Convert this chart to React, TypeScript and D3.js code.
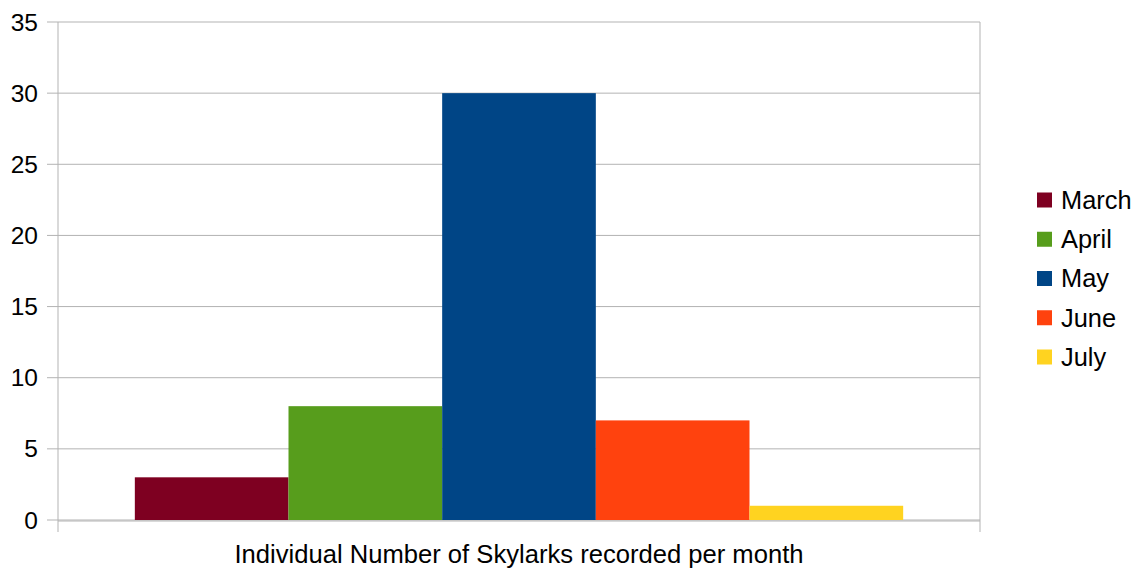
import React from 'react';
import * as d3 from 'd3';

const months = ['March', 'April', 'May', 'June', 'July'];
const counts = [3, 8, 30, 7, 1];
const colors = ['#7e0021', '#579d1c', '#004586', '#ff420e', '#ffd320'];
const category = 'Individual Number of Skylarks recorded per month';

const W = 1138;
const H = 569;
const plot = { left: 58, right: 980, top: 22, bottom: 520 };
const font = '"Liberation Sans", Arial, sans-serif';

const App = () => {
  // scales
  const x0 = d3.scaleBand().domain([category]).range([plot.left, plot.right]);
  const x1 = d3.scaleBand()
    .domain(months)
    .range([0, x0.bandwidth()])
    .paddingInner(0)
    .paddingOuter(0.5);
  const y = d3.scaleLinear().domain([0, 35]).range([plot.bottom, plot.top]);
  const color = d3.scaleOrdinal<string, string>().domain(months).range(colors);
  const ticks = y.ticks(7);

  const legendY = d3.scalePoint().domain(months).range([200, 357]);

  return (
    <svg width={W} height={H} style={{ position: 'absolute', left: 0, top: 0, background: '#fff' }}>
      {/* grid + y ticks */}
      {ticks.map(t => (
        <g key={t}>
          <line x1={plot.left - 11} x2={plot.right} y1={y(t)} y2={y(t)} stroke="#b3b3b3" strokeWidth={1} />
          <text x={38} y={y(t)} dy="0.35em" textAnchor="end" fontFamily={font} fontSize={24.5} fill="#000">
            {t}
          </text>
        </g>
      ))}
      {/* axis lines */}
      <line x1={plot.left} x2={plot.left} y1={plot.top} y2={plot.bottom + 12} stroke="#b3b3b3" />
      <line x1={plot.right} x2={plot.right} y1={plot.top} y2={plot.bottom + 12} stroke="#b3b3b3" />
      <line x1={plot.left} x2={plot.right} y1={plot.bottom + 1} y2={plot.bottom + 1} stroke="#b3b3b3" />

      {/* bars */}
      {months.map((m, i) => (
        <rect
          key={m}
          x={(x0(category) ?? 0) + (x1(m) ?? 0)}
          y={y(counts[i])}
          width={x1.bandwidth()}
          height={plot.bottom - y(counts[i])}
          fill={color(m)}
        />
      ))}

      {/* x label */}
      <text
        x={(x0(category) ?? 0) + x0.bandwidth() / 2}
        y={563}
        textAnchor="middle"
        fontFamily={font}
        fontSize={25.6}
        fill="#000"
      >
        {category}
      </text>

      {/* legend */}
      {months.map(m => (
        <g key={m} transform={`translate(1037,${legendY(m)})`}>
          <rect x={0} y={-7.5} width={15} height={15} fill={color(m)} />
          <text x={24} y={0} dy="0.35em" fontFamily={font} fontSize={25.4} fill="#000">
            {m}
          </text>
        </g>
      ))}
    </svg>
  );
};

export default App;
